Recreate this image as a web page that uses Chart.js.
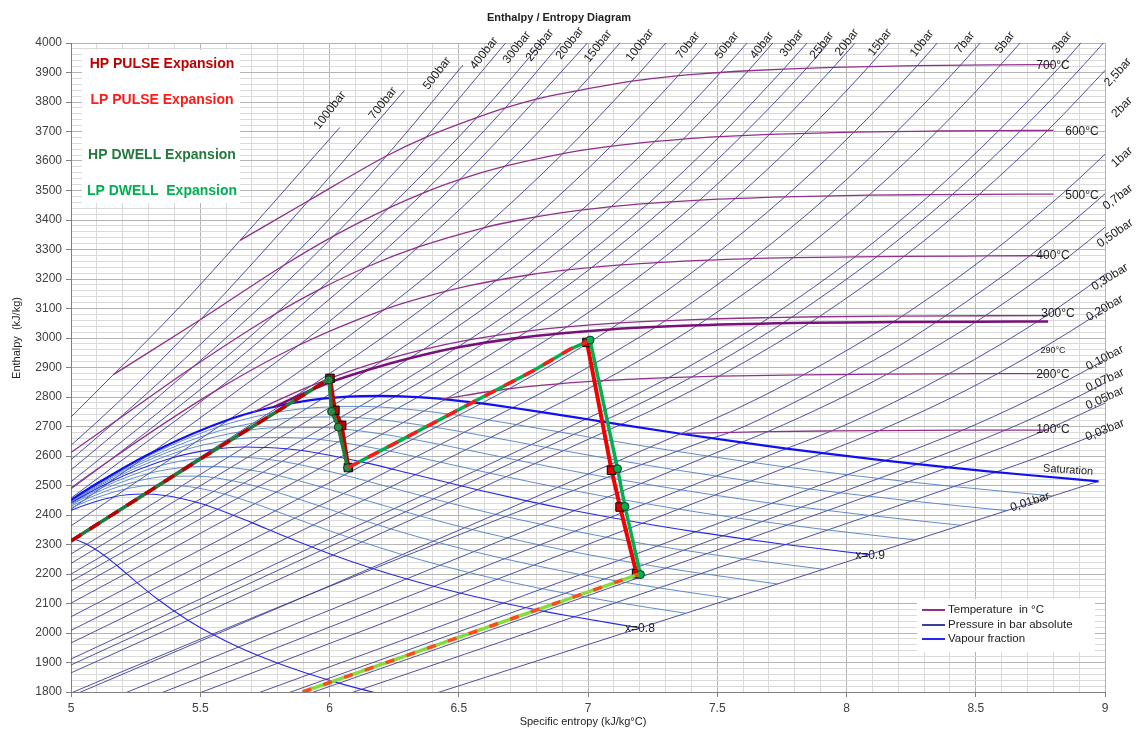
<!DOCTYPE html>
<html><head><meta charset="utf-8">
<script src="https://cdn.jsdelivr.net/npm/chart.js@4.4.1/dist/chart.umd.min.js"></script>
<style>html,body{margin:0;padding:0;background:#fff;}#wrap{width:1137px;height:731px;position:relative;}</style>
</head><body><div id="wrap"><canvas id="c"></canvas></div>
<script>
// ---------- axis tick labels ----------
const xTickLabels = ['5','5.5','6','6.5','7','7.5','8','8.5','9'];
const yTickLabels = ['1800','1900','2000','2100','2200','2300','2400','2500','2600','2700','2800','2900','3000','3100','3200','3300','3400','3500','3600','3700','3800','3900','4000'];

// ---------- isobars [s (kJ/kgK), h (kJ/kg)] ----------
const isobar_1000bar = [[4.80,2555],[5.00,2732],[5.164,2876],[5.42,3105],[5.654,3331],[6.04,3714]];
const isobar_700bar = [[4.85,2520],[5.18,2780],[5.50,3062],[5.92,3466],[6.29,3839]];
const isobar_500bar = [[4.588,2284.7],[5.176,2720.1],[5.527,3000],[5.825,3247.5],[6.04,3441],[6.22,3617],[6.516,3925]];
const isobar_400bar = [[4.504,2198],[4.945,2512.8],[5.474,2903.3],[5.786,3149.1],[6.017,3346.4],[6.208,3520.6],[6.374,3681],[6.661,3978.8],[6.72,4040]];
const isobar_300bar = [[4.476,2152],[5.0,2513],[5.442,2821],[5.64,2965],[5.790,3081],[6.233,3444],[6.57,3747],[6.85,4030]];
const isobar_250bar = [[4.60,2232],[5.0,2488],[5.142,2580],[5.435,2780],[5.676,2950.6],[5.960,3164],[6.362,3491.4],[6.68,3780],[6.93,4036]];
const isobar_200bar = [[4.014,1826.3],[4.927,2409.7],[5.25,2620],[5.554,2818.1],[5.902,3060.1],[6.140,3238.2],[6.505,3537.6],[6.800,3810],[7.07,4070]];
const isobar_150bar = [[3.685,1610.5],[5.310,2610.5],[5.442,2692.4],[5.700,2858],[5.881,2975.5],[6.140,3156.2],[6.344,3308.6],[6.679,3582.3],[6.957,3837.8],[7.21,4085]];
const isobar_100bar = [[3.360,1407.6],[5.614,2724.7],[5.756,2810],[5.944,2923.4],[6.212,3096.5],[6.419,3240.9],[6.597,3373.7],[6.903,3625.3],[7.170,3870.5],[7.41,4110]];
const isobar_70bar = [[3.121,1267.0],[5.813,2772.1],[5.930,2838.4],[6.228,3016.0],[6.448,3158.1],[6.632,3287.1],[6.797,3410.3],[7.089,3650.3],[7.348,3888.3],[7.58,4123]];
const isobar_50bar = [[2.920,1154.2],[5.973,2794.3],[6.208,2924.5],[6.449,3068.4],[6.646,3195.7],[6.819,3316.2],[6.976,3433.8],[7.259,3666.5],[7.513,3900.1],[7.75,4133]];
const isobar_40bar = [[2.797,1087.3],[6.070,2801.4],[6.362,2960.7],[6.584,3092.5],[6.769,3213.6],[6.935,3330.3],[7.090,3445.3],[7.369,3674.4],[7.620,3905.9],[7.85,4137]];
const isobar_30bar = [[2.646,1008.4],[6.187,2804.1],[6.287,2855.8],[6.539,2993.5],[6.743,3115.3],[6.921,3230.9],[7.234,3456.5],[7.508,3682.3],[7.757,3911.7],[7.99,4142]];
const isobar_25bar = [[2.554,962.1],[6.257,2803.1],[6.408,2880.1],[6.644,3008.8],[6.840,3126.3],[7.015,3239.3],[7.324,3462.1],[7.596,3686.3],[7.845,3914],[8.07,4145]];
const isobar_20bar = [[2.447,908.8],[6.341,2799.5],[6.545,2902.5],[6.766,3023.5],[6.956,3137.0],[7.127,3247.6],[7.432,3467.6],[7.702,3690.1],[7.949,3917],[8.18,4148]];
const isobar_15bar = [[2.315,844.9],[6.448,2792.2],[6.710,2923.2],[6.918,3037.6],[7.102,3147.5],[7.269,3255.8],[7.570,3473.1],[7.839,3694],[8.085,3919],[8.31,4150]];
const isobar_10bar = [[2.139,762.8],[6.587,2778.1],[6.694,2827.9],[6.925,2942.6],[7.123,3051.2],[7.301,3157.7],[7.465,3263.9],[7.762,3478.5],[8.029,3697.9],[8.273,3922.3],[8.50,4153]];
const isobar_7bar = [[1.992,697.2],[6.708,2763.5],[6.886,2844.8],[7.105,2953.6],[7.300,3059.1],[7.635,3268.7],[7.930,3482],[8.195,3700],[8.440,3924],[8.67,4155]];
const isobar_5bar = [[1.861,640.2],[6.821,2748.7],[7.059,2855.4],[7.271,2960.7],[7.460,3064.2],[7.794,3272.3],[8.087,3484.2],[8.352,3701.7],[8.596,3925.9],[8.827,4156]];
const isobar_3bar = [[1.672,561.5],[6.992,2725.3],[7.078,2761.0],[7.312,2865.5],[7.517,2967.6],[7.702,3069.3],[8.033,3275.0],[8.325,3486.0],[8.589,3703],[8.833,3927],[9.06,4157]];
const isobar_2_5bar = [[1.607,535.4],[7.053,2716.4],[7.171,2764.5],[7.401,2867.6],[7.604,2969],[7.789,3070.9],[8.118,3275.9],[8.410,3486.5],[8.674,3703],[8.919,3927],[9.15,4157]];
const isobar_2bar = [[1.530,504.7],[7.127,2706.7],[7.280,2768.8],[7.507,2870.5],[7.709,2971.0],[7.894,3072.1],[8.223,3276.7],[8.514,3487.0],[8.778,3703.5],[9.022,3927]];
const isobar_1bar = [[1.303,417.5],[7.359,2675.5],[7.614,2776.4],[7.834,2875.3],[8.033,2974.3],[8.216,3074.3],[8.544,3278.2],[8.834,3488.1],[9.098,3704.4]];
const isobar_0_7bar = [[1.192,376.7],[7.479,2660],[7.550,2680],[7.790,2778],[8.006,2877],[8.206,2975],[8.383,3075],[8.710,3279],[9.000,3489],[9.26,3705]];
const isobar_0_5bar = [[1.091,340.5],[7.594,2645.9],[7.695,2682.5],[7.940,2780.1],[8.158,2877.7],[8.356,2976],[8.537,3075.5],[8.864,3278.9],[9.154,3488.7]];
const isobar_0_3bar = [[0.944,289.2],[7.768,2625.3],[7.942,2685],[8.182,2781.5],[8.397,2879],[8.593,2977],[8.774,3076],[9.101,3279]];
const isobar_0_2bar = [[0.832,251.4],[7.909,2609.7],[8.127,2686.3],[8.369,2782],[8.584,2879],[8.780,2977],[8.961,3076],[9.288,3280]];
const isobar_0_1bar = [[0.649,191.8],[8.150,2584.6],[8.449,2687.5],[8.689,2783],[8.904,2879.5],[9.100,2977.3]];
const isobar_0_07bar = [[0.559,163.4],[8.275,2572.5],[8.614,2687.5],[8.854,2783],[9.069,2879.5]];
const isobar_0_05bar = [[0.476,137.8],[8.395,2561.5],[8.610,2631],[8.769,2687.5],[9.009,2783]];
const isobar_0_03bar = [[0.354,101.0],[8.578,2545.5],[8.735,2594],[9.005,2687]];
const isobar_0_01bar = [[0.106,29.3],[8.975,2514.2]];

// ---------- isotherms ----------
const isotherm_100C = [[7.355,2676.1],[7.550,2680],[7.695,2682.5],[7.942,2685],[8.127,2686.3],[8.449,2687.5],[8.614,2687.6],[8.78,2687.7]];
const isotherm_200C = [[6.431,2792.0],[6.694,2827.9],[6.886,2844.8],[7.059,2855.4],[7.312,2865.5],[7.507,2870.5],[7.834,2875.3],[8.158,2877.7],[8.584,2879.0],[8.78,2879.3]];
const isotherm_290C = [[5.786,2766.5],[5.849,2792],[5.99,2846],[6.15,2892],[6.31,2931],[6.493,2967.5],[6.724,2999.5],[7.084,3029],[7.423,3043],[7.858,3051.6],[8.181,3054],[8.501,3055.3],[8.78,3056]];
const isotherm_300C = [[5.705,2749.0],[5.791,2785.0],[5.930,2838.4],[6.067,2884.2],[6.208,2924.5],[6.362,2960.7],[6.539,2993.5],[6.766,3023.5],[6.918,3037.6],[7.123,3051.2],[7.460,3064.2],[7.702,3069.3],[7.894,3072.1],[8.216,3074.3],[8.537,3075.5],[8.78,3076]];
const isotherm_400C = [[4.476,2152],[5.142,2580.2],[5.554,2818.1],[5.881,2975.5],[6.212,3096.5],[6.366,3138.3],[6.541,3177.2],[6.769,3213.6],[6.921,3230.9],[7.127,3247.6],[7.465,3263.9],[7.794,3272.3],[8.033,3275.0],[8.223,3276.7],[8.544,3278.2],[8.78,3279]];
const isotherm_500C = [[4.85,2520],[5.176,2720.1],[5.474,2903.3],[5.793,3083],[5.960,3164],[6.139,3239],[6.344,3308.6],[6.597,3373.7],[6.724,3398.3],[6.881,3422.2],[7.090,3445.3],[7.234,3456.5],[7.432,3467.6],[7.762,3478.5],[8.087,3484.2],[8.325,3486.0],[8.514,3487.0],[8.80,3488]];
const isotherm_600C = [[5.164,2876],[5.50,3062],[5.825,3247.5],[6.017,3346.4],[6.237,3443.9],[6.362,3491.4],[6.505,3537.6],[6.679,3582.3],[6.903,3625.3],[7.019,3642.0],[7.168,3658.4],[7.369,3674.4],[7.508,3682.3],[7.702,3690.1],[8.029,3697.9],[8.352,3701.7],[8.589,3703.2],[8.80,3703.6]];
const isotherm_700C = [[5.654,3331],[5.92,3466],[6.22,3617],[6.374,3681],[6.57,3747],[6.68,3780],[6.80,3810],[6.957,3837.8],[7.170,3870.5],[7.273,3882],[7.422,3894.3],[7.620,3905.9],[7.757,3911.7],[7.949,3917.4],[8.273,3923.1],[8.596,3925.9],[8.80,3927]];

// ---------- vapour fraction lines ----------
const quality_100 = [[4.927,2409.7],[5.105,2509.1],[5.310,2610.5],[5.614,2724.7],[5.813,2772.1],[5.973,2794.3],[6.070,2801.4],[6.187,2804.1],[6.257,2803.1],[6.341,2799.5],[6.448,2792.2],[6.587,2778.1],[6.708,2763.5],[6.821,2748.7],[6.992,2725.3],[7.127,2706.6],[7.359,2675.5],[7.594,2645.9],[7.768,2625.3],[7.909,2609.7],[8.150,2584.6],[8.275,2572.5],[8.395,2561.5],[8.578,2545.5],[8.723,2533.9],[8.975,2514.2]];
const quality_098 = [[4.909,2398.0],[5.080,2493.6],[5.277,2590.5],[5.569,2698.4],[5.759,2742.0],[5.912,2761.5],[6.116,2768.2],[6.263,2761.7],[6.498,2737.8],[6.722,2706.5],[7.015,2662.6],[7.238,2630.3],[7.464,2599.8],[7.767,2562.6],[8.000,2536.7],[8.237,2513.0],[8.414,2496.6],[8.797,2464.5]];
const quality_096 = [[4.890,2386.4],[5.055,2478.0],[5.245,2570.5],[5.524,2672.0],[5.706,2711.9],[5.851,2728.7],[6.045,2732.3],[6.185,2723.9],[6.409,2697.5],[6.623,2664.4],[6.903,2618.5],[7.117,2585.2],[7.334,2553.7],[7.626,2515.4],[7.850,2488.9],[8.078,2464.6],[8.250,2447.7],[8.620,2414.8]];
const quality_094 = [[4.872,2374.7],[5.031,2462.5],[5.212,2550.5],[5.479,2645.7],[5.652,2681.8],[5.790,2695.9],[5.974,2696.4],[6.107,2686.1],[6.320,2657.2],[6.523,2622.2],[6.791,2574.5],[6.996,2540.0],[7.204,2507.6],[7.484,2468.2],[7.700,2441.0],[7.920,2416.1],[8.085,2398.8],[8.443,2365.1]];
const quality_092 = [[4.854,2363.0],[5.006,2446.9],[5.180,2530.5],[5.434,2619.3],[5.598,2651.7],[5.729,2663.1],[5.903,2660.5],[6.029,2648.2],[6.231,2616.9],[6.424,2580.0],[6.680,2530.4],[6.875,2494.9],[7.074,2461.5],[7.342,2421.1],[7.550,2393.2],[7.762,2367.6],[7.921,2349.9],[8.265,2315.4]];
const quality_090 = [[4.836,2351.4],[4.981,2431.4],[5.147,2510.5],[5.389,2593.0],[5.544,2621.6],[5.668,2630.3],[5.833,2624.5],[5.952,2610.4],[6.142,2576.6],[6.325,2537.9],[6.568,2486.4],[6.754,2449.7],[6.944,2415.4],[7.201,2373.9],[7.400,2345.3],[7.603,2319.1],[7.756,2301.1],[8.088,2265.7]];
const quality_088 = [[4.817,2339.7],[4.957,2415.8],[5.115,2490.5],[5.343,2566.6],[5.490,2591.5],[5.607,2597.5],[5.762,2588.6],[5.874,2572.6],[6.053,2536.3],[6.226,2495.7],[6.456,2442.4],[6.632,2404.5],[6.814,2369.3],[7.059,2326.7],[7.250,2297.5],[7.445,2270.7],[7.592,2252.2],[7.911,2216.0]];
const quality_086 = [[4.799,2328.0],[4.932,2400.3],[5.082,2470.5],[5.298,2540.3],[5.436,2561.4],[5.546,2564.7],[5.691,2552.7],[5.796,2534.8],[5.964,2495.9],[6.127,2453.5],[6.344,2398.3],[6.511,2359.4],[6.684,2323.1],[6.918,2279.5],[7.100,2249.6],[7.286,2222.2],[7.427,2203.3],[7.733,2166.3]];
const quality_084 = [[4.781,2316.4],[4.907,2384.8],[5.050,2450.5],[5.253,2514.0],[5.383,2531.3],[5.485,2531.9],[5.620,2516.8],[5.718,2497.0],[5.875,2455.6],[6.027,2411.3],[6.232,2354.3],[6.390,2314.2],[6.553,2277.0],[6.776,2232.4],[6.950,2201.8],[7.128,2173.7],[7.263,2154.4],[7.556,2116.6]];
const quality_082 = [[4.763,2304.7],[4.883,2369.2],[5.017,2430.5],[5.208,2487.6],[5.329,2501.2],[5.424,2499.1],[5.549,2480.9],[5.640,2459.2],[5.786,2415.3],[5.928,2369.2],[6.120,2310.3],[6.269,2269.1],[6.423,2230.9],[6.635,2185.2],[6.800,2153.9],[6.970,2125.3],[7.098,2105.5],[7.378,2066.9]];
const quality_080 = [[4.744,2293.0],[4.858,2353.7],[4.985,2410.5],[5.163,2461.3],[5.275,2471.1],[5.363,2466.3],[5.479,2445.0],[5.562,2421.4],[5.697,2375.0],[5.829,2327.0],[6.008,2266.2],[6.148,2223.9],[6.293,2184.8],[6.493,2138.0],[6.650,2106.0],[6.811,2076.8],[6.934,2056.6],[7.201,2017.2]];
const quality_070 = [[4.653,2234.7],[4.822,2310.5],[4.938,2329.6],[5.006,2320.6],[5.057,2302.3],[5.125,2265.4],[5.173,2232.3],[5.252,2173.5],[5.333,2116.2],[5.448,2046.0],[5.542,1998.1],[5.643,1954.3],[5.786,1902.2],[5.900,1866.8],[6.020,1834.4],[6.111,1812.2],[6.314,1768.7]];

// ---------- expansion processes ----------
const hpHeating = [[5.0,2312],[5.5,2590],[5.85,2780],[6.0,2862]];
const hpPulse = [[6.002,2863],[6.021,2755],[6.047,2704],[6.073,2561]];
const hpDwell = [[5.998,2858],[6.008,2751],[6.034,2698],[6.070,2560]];
const lpHeating = [[6.073,2561],[6.273,2652],[6.569,2789],[6.79,2890],[6.93,2962],[6.996,2987]];
const lpPulse = [[6.996,2985],[7.091,2552],[7.124,2427],[7.188,2201]];
const lpDwell = [[7.008,2993],[7.114,2557],[7.143,2429],[7.203,2198]];
const condensing = [[5.896,1800],[7.195,2199]];

// ---------- line labels (text and anchor in data units) ----------
const isobarLabelText = ['1000bar','700bar','500bar','400bar','300bar','250bar','200bar','150bar','100bar','70bar','50bar','40bar','30bar','25bar','20bar','15bar','10bar','7bar','5bar','3bar','2,5bar','2bar','1bar','0,7bar','0,50bar','0,30bar','0,20bar','0,10bar','0,07bar','0,05bar','0,03bar','0,01bar'];
const isobarLabelS = [6.002,6.207,6.416,6.598,6.725,6.814,6.930,7.039,7.201,7.387,7.538,7.673,7.789,7.905,8.002,8.130,8.292,8.458,8.613,8.834,9.050,9.066,9.066,9.050,9.039,9.019,9.0,9.0,9.0,9.0,9.0,8.710];
const isobarLabelH = [3772,3796,3897,3965,3985,3992,3999,3989,3992,3992,3992,3992,3999,3992,4002,4002,3999,4002,4002,4002,3901,3782,3613,3477,3355,3206,3101,2932,2857,2796,2688,2444];
const tempLabelText = ['700°C','600°C','500°C','400°C','300°C','200°C','100°C'];
const tempLabelS = [8.799,8.911,8.911,8.799,8.818,8.799,8.799];
const tempLabelH = [3924,3701,3484,3280,3084,2877,2688];
const smallLabelText = ['290°C'];
const smallLabelS = [8.799];
const smallLabelH = [2958];
const fractionLabelText = ['Saturation','x=0.9','x=0.8'];
const fractionLabelS = [8.857,8.091,7.201];
const fractionLabelH = [2552,2263,2015];

// ---------- styles ----------
const isobarAngles = [52,52,52,52,52,52,52,52,52,52,52,52,52,52,52,52,52,52,52,52,48,45,42,38,35,32,30,28,25,24,22,18];
const FONT = '"Liberation Sans", Arial, sans-serif';
Chart.defaults.font.family = FONT;
Chart.defaults.color = '#404040';

const pts = a => a.map(p => ({x: p[0], y: p[1]}));
const curve = (arr, color, width, order, extra) => Object.assign({
  data: pts(arr), borderColor: color, borderWidth: width, pointRadius: 0,
  cubicInterpolationMode: 'monotone', fill: false, order: order
}, extra || {});
const straight = (arr, color, width, order, extra) => Object.assign({
  data: pts(arr), borderColor: color, borderWidth: width, pointRadius: 0,
  tension: 0, fill: false, order: order
}, extra || {});

const isobarSeries = [isobar_1000bar,isobar_700bar,isobar_500bar,isobar_400bar,isobar_300bar,isobar_250bar,isobar_200bar,isobar_150bar,isobar_100bar,isobar_70bar,isobar_50bar,isobar_40bar,isobar_30bar,isobar_25bar,isobar_20bar,isobar_15bar,isobar_10bar,isobar_7bar,isobar_5bar,isobar_3bar,isobar_2_5bar,isobar_2bar,isobar_1bar,isobar_0_7bar,isobar_0_5bar,isobar_0_3bar,isobar_0_2bar,isobar_0_1bar,isobar_0_07bar,isobar_0_05bar,isobar_0_03bar,isobar_0_01bar];
const isothermSeries = [isotherm_100C,isotherm_200C,isotherm_300C,isotherm_400C,isotherm_500C,isotherm_600C,isotherm_700C];
const lightQualitySeries = [quality_098,quality_096,quality_094,quality_092,quality_088,quality_086,quality_084,quality_082];

const datasets = [];
// expansion processes (lowest order = drawn on top)
datasets.push(straight(condensing, '#FF4A1C', 3.5, 1, {borderDash: [9, 13]}));
datasets.push(straight(condensing, '#86DB3E', 3.5, 2));
datasets.push(straight(lpHeating, '#FF1A1A', 3.5, 1, {borderDash: [12, 10]}));
datasets.push(straight(lpHeating, '#00B050', 3.5, 2));
datasets.push(straight(hpHeating, '#C00000', 3.5, 1, {borderDash: [12, 10]}));
datasets.push(straight(hpHeating, '#237A3B', 3.5, 2));
datasets.push(straight(hpDwell, '#237A3B', 3.5, 3, {pointRadius: 4, pointStyle: 'circle', pointBackgroundColor: '#2E8B47', pointBorderColor: '#0D3B1A', pointBorderWidth: 1}));
datasets.push(straight(hpPulse, '#C00000', 4, 4, {pointRadius: 6, pointStyle: 'rect', pointBackgroundColor: '#C00000', pointBorderColor: '#000000', pointBorderWidth: 1}));
datasets.push(straight(lpDwell, '#00B050', 3.5, 3, {pointRadius: 4, pointStyle: 'circle', pointBackgroundColor: '#00B050', pointBorderColor: '#0D3B1A', pointBorderWidth: 1}));
datasets.push(straight(lpPulse, '#F00000', 4, 4, {pointRadius: 6, pointStyle: 'rect', pointBackgroundColor: '#E00000', pointBorderColor: '#000000', pointBorderWidth: 1}));
// isotherms
isothermSeries.forEach(a => datasets.push(curve(a, '#90308C', 1.3, 10)));
datasets.push(curve(isotherm_290C, '#7A107A', 2.6, 9));
// vapour fraction lines
datasets.push(curve(quality_100, '#1010F0', 2.2, 18));
datasets.push(curve(quality_090, '#2828E0', 1.1, 19));
datasets.push(curve(quality_080, '#2828E0', 1.1, 19));
datasets.push(curve(quality_070, '#2828E0', 1.1, 19));
lightQualitySeries.forEach(a => datasets.push(curve(a, 'rgba(70,120,195,0.85)', 1, 20)));
// isobars
isobarSeries.forEach(a => datasets.push(curve(a, 'rgba(62,62,150,0.9)', 1, 30)));

function drawRot(ctx, text, x, y, deg) {
  ctx.save(); ctx.translate(x, y); ctx.rotate(-deg * Math.PI / 180);
  ctx.fillText(text, 0, 0); ctx.restore();
}

const overlay = {
  id: 'overlay',
  beforeDatasetsDraw(chart) {
    const ctx = chart.ctx;
    ctx.save(); ctx.fillStyle = '#ffffff'; ctx.fillRect(82, 50, 158, 153); ctx.restore();
  },
  afterDatasetsDraw(chart) {
    const {ctx} = chart; const xs = chart.scales.x, ys = chart.scales.y;
    ctx.save();
    ctx.textAlign = 'center'; ctx.textBaseline = 'middle';
    ctx.fillStyle = '#222222';
    ctx.font = '12px ' + FONT;
    isobarLabelText.forEach((t, i) => drawRot(ctx, t, xs.getPixelForValue(isobarLabelS[i]), ys.getPixelForValue(isobarLabelH[i]), isobarAngles[i]));
    tempLabelText.forEach((t, i) => ctx.fillText(t, xs.getPixelForValue(tempLabelS[i]), ys.getPixelForValue(tempLabelH[i])));
    ctx.font = '11px ' + FONT;
    drawRot(ctx, fractionLabelText[0], xs.getPixelForValue(fractionLabelS[0]), ys.getPixelForValue(fractionLabelH[0]), -4);
    ctx.font = '12px ' + FONT;
    for (let i = 1; i < fractionLabelText.length; i++) ctx.fillText(fractionLabelText[i], xs.getPixelForValue(fractionLabelS[i]), ys.getPixelForValue(fractionLabelH[i]));
    ctx.font = '9px ' + FONT;
    smallLabelText.forEach((t, i) => ctx.fillText(t, xs.getPixelForValue(smallLabelS[i]), ys.getPixelForValue(smallLabelH[i])));

    // top-left process legend
    ctx.font = 'bold 14px ' + FONT;
    const proc = [['HP PULSE Expansion', '#C00000', 64], ['LP PULSE Expansion', '#FF1A1A', 100], ['HP DWELL Expansion', '#237A3B', 155], ['LP DWELL  Expansion', '#00B050', 191]];
    proc.forEach(p => { ctx.fillStyle = p[1]; ctx.fillText(p[0], 162, p[2]); });

    // bottom-right legend
    ctx.fillStyle = '#ffffff'; ctx.fillRect(917, 599, 178, 53);
    const leg = [['Temperature  in °C', '#90308C', 610], ['Pressure in bar absolute', '#3E3E96', 625], ['Vapour fraction', '#2828F0', 639]];
    ctx.textAlign = 'left'; ctx.font = '11.5px ' + FONT;
    leg.forEach(l => {
      ctx.strokeStyle = l[1]; ctx.lineWidth = 2;
      ctx.beginPath(); ctx.moveTo(922, l[2]); ctx.lineTo(945, l[2]); ctx.stroke();
      ctx.fillStyle = '#222222'; ctx.fillText(l[0], 948, l[2]);
    });

    // title and axis titles
    ctx.textAlign = 'center';
    ctx.fillStyle = '#222222';
    ctx.font = 'bold 11px ' + FONT;
    ctx.fillText('Enthalpy / Entropy Diagram', 559, 18);
    ctx.font = '11px ' + FONT;
    ctx.fillText('Specific entropy (kJ/kg°C)', 583, 722);
    drawRot(ctx, 'Enthalpy  (kJ/kg)', 17, 338, 90);
    ctx.restore();
  }
};

const isMajorX = v => Math.abs(v * 2 - Math.round(v * 2)) < 1e-6;
const isMajorY = v => Math.abs(v / 100 - Math.round(v / 100)) < 1e-6;

new Chart(document.getElementById('c'), {
  type: 'line',
  data: {datasets: datasets},
  options: {
    responsive: true, maintainAspectRatio: false, animation: false, events: [],
    layout: {padding: {left: 0, right: 32, top: 43, bottom: 0}},
    elements: {line: {capBezierPoints: false}},
    plugins: {legend: {display: false}, tooltip: {enabled: false}, title: {display: false}},
    scales: {
      x: {
        type: 'linear', min: 5, max: 9,
        afterFit: s => { s.height = 39; },
        ticks: {stepSize: 0.1, autoSkip: false, maxRotation: 0, padding: 4, color: '#404040', font: {size: 12},
          callback: v => isMajorX(v) ? xTickLabels[Math.round((v - 5) * 2)] : ''},
        grid: {color: c => isMajorX(c.tick.value) ? '#B4B4B4' : '#DADADA', lineWidth: 1, tickLength: 5,
          tickColor: c => isMajorX(c.tick.value) ? '#808080' : 'rgba(0,0,0,0)'},
        border: {color: '#808080', width: 1}
      },
      y: {
        type: 'linear', min: 1800, max: 4000,
        afterFit: s => { s.width = 71; },
        ticks: {stepSize: 20, autoSkip: false, padding: 4, color: '#404040', font: {size: 12},
          callback: v => isMajorY(v) ? yTickLabels[Math.round((v - 1800) / 100)] : ''},
        grid: {color: c => isMajorY(c.tick.value) ? '#B4B4B4' : '#DADADA', lineWidth: 1, tickLength: 5,
          tickColor: c => isMajorY(c.tick.value) ? '#808080' : 'rgba(0,0,0,0)'},
        border: {color: '#808080', width: 1}
      }
    }
  },
  plugins: [overlay]
});
</script></body></html>
